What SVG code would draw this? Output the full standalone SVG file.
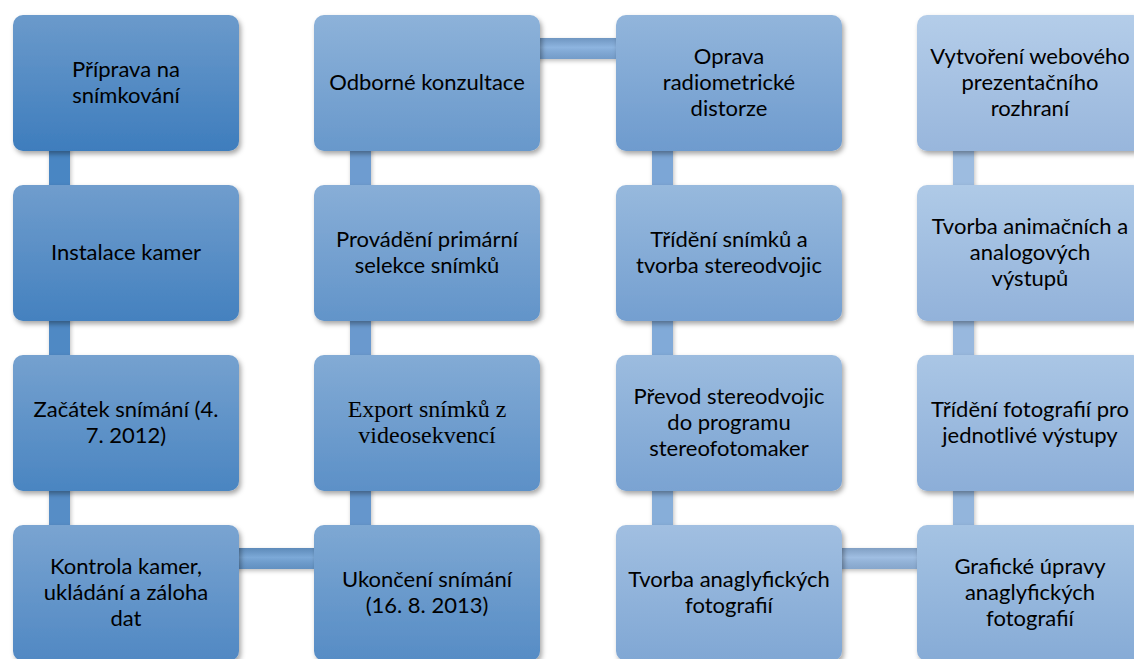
<svg xmlns="http://www.w3.org/2000/svg" width="1134" height="659" viewBox="0 0 1134 659">
<style>
  .box { filter: url(#sh); }
  .bar { filter: url(#sh2); }
  .t { font-family: "Lato", "Open Sans", "Liberation Sans", sans-serif; font-size: 22px; fill: #000; text-anchor: middle; }
  .s { font-family: "Liberation Serif", "Times New Roman", serif; font-size: 24px; fill: #000; text-anchor: middle; }
</style>
<defs>
  <filter id="sh" x="-10%" y="-10%" width="125%" height="130%">
    <feDropShadow dx="2" dy="3" stdDeviation="2.5" flood-color="#000" flood-opacity="0.35"/>
  </filter>
  <filter id="sh2" x="-20%" y="-20%" width="140%" height="160%">
    <feDropShadow dx="1" dy="2" stdDeviation="2" flood-color="#000" flood-opacity="0.25"/>
  </filter>
  <linearGradient id="g0" x1="0" y1="0" x2="0" y2="1"><stop offset="0" stop-color="#6b9acb"/><stop offset="1" stop-color="#3e7dbd"/></linearGradient>
  <linearGradient id="g1" x1="0" y1="0" x2="0" y2="1"><stop offset="0" stop-color="#709dcd"/><stop offset="1" stop-color="#4481bf"/></linearGradient>
  <linearGradient id="g2" x1="0" y1="0" x2="0" y2="1"><stop offset="0" stop-color="#75a1cf"/><stop offset="1" stop-color="#4a85c1"/></linearGradient>
  <linearGradient id="g3" x1="0" y1="0" x2="0" y2="1"><stop offset="0" stop-color="#7aa4d1"/><stop offset="1" stop-color="#5088c3"/></linearGradient>
  <linearGradient id="g4" x1="0" y1="0" x2="0" y2="1"><stop offset="0" stop-color="#7ea8d3"/><stop offset="1" stop-color="#568cc5"/></linearGradient>
  <linearGradient id="g5" x1="0" y1="0" x2="0" y2="1"><stop offset="0" stop-color="#83abd5"/><stop offset="1" stop-color="#5c90c7"/></linearGradient>
  <linearGradient id="g6" x1="0" y1="0" x2="0" y2="1"><stop offset="0" stop-color="#88aed7"/><stop offset="1" stop-color="#6294c9"/></linearGradient>
  <linearGradient id="g7" x1="0" y1="0" x2="0" y2="1"><stop offset="0" stop-color="#8db2d9"/><stop offset="1" stop-color="#6898cb"/></linearGradient>
  <linearGradient id="g8" x1="0" y1="0" x2="0" y2="1"><stop offset="0" stop-color="#92b5db"/><stop offset="1" stop-color="#6e9bce"/></linearGradient>
  <linearGradient id="g9" x1="0" y1="0" x2="0" y2="1"><stop offset="0" stop-color="#97b9dd"/><stop offset="1" stop-color="#749fd0"/></linearGradient>
  <linearGradient id="g10" x1="0" y1="0" x2="0" y2="1"><stop offset="0" stop-color="#9cbcdf"/><stop offset="1" stop-color="#7aa3d2"/></linearGradient>
  <linearGradient id="g11" x1="0" y1="0" x2="0" y2="1"><stop offset="0" stop-color="#a1bfe1"/><stop offset="1" stop-color="#80a7d4"/></linearGradient>
  <linearGradient id="g12" x1="0" y1="0" x2="0" y2="1"><stop offset="0" stop-color="#a5c3e3"/><stop offset="1" stop-color="#86abd6"/></linearGradient>
  <linearGradient id="g13" x1="0" y1="0" x2="0" y2="1"><stop offset="0" stop-color="#aac6e5"/><stop offset="1" stop-color="#8caed8"/></linearGradient>
  <linearGradient id="g14" x1="0" y1="0" x2="0" y2="1"><stop offset="0" stop-color="#afcae7"/><stop offset="1" stop-color="#92b2da"/></linearGradient>
  <linearGradient id="g15" x1="0" y1="0" x2="0" y2="1"><stop offset="0" stop-color="#b4cde9"/><stop offset="1" stop-color="#98b6dc"/></linearGradient>
  <linearGradient id="hb" x1="0" y1="0" x2="0" y2="1"><stop offset="0" stop-color="#000" stop-opacity="0.12"/><stop offset="0.45" stop-color="#fff" stop-opacity="0.12"/><stop offset="1" stop-color="#000" stop-opacity="0.08"/></linearGradient>
</defs>

<g id="connectors">
  <rect class="bar" x="49" y="146" width="21" height="44" fill="#4a86c3"/>
  <rect class="bar" x="49" y="316" width="21" height="44" fill="#5089c4"/>
  <rect class="bar" x="49" y="486" width="21" height="44" fill="#568dc6"/>
  <rect class="bar" x="233" y="548" width="87" height="21" fill="#6a9dd2"/>
  <rect x="233" y="548" width="87" height="21" fill="url(#hb)"/>
  <rect class="bar" x="350" y="486" width="21" height="44" fill="#6596cc"/>
  <rect class="bar" x="350" y="316" width="21" height="44" fill="#6a99ce"/>
  <rect class="bar" x="350" y="146" width="21" height="44" fill="#6e9cd0"/>
  <rect class="bar" x="535" y="38" width="87" height="21" fill="#7eaadb"/>
  <rect x="535" y="38" width="87" height="21" fill="url(#hb)"/>
  <rect class="bar" x="652" y="146" width="21" height="44" fill="#7ca6d6"/>
  <rect class="bar" x="652" y="316" width="21" height="44" fill="#81aad8"/>
  <rect class="bar" x="652" y="486" width="21" height="44" fill="#87aed9"/>
  <rect class="bar" x="836" y="548" width="87" height="21" fill="#92b5de"/>
  <rect x="836" y="548" width="87" height="21" fill="url(#hb)"/>
  <rect class="bar" x="953" y="486" width="21" height="44" fill="#93b5dc"/>
  <rect class="bar" x="953" y="316" width="21" height="44" fill="#98b8de"/>
  <rect class="bar" x="953" y="146" width="21" height="44" fill="#9dbce0"/>
</g>

<g id="n0"><rect class="box" x="13" y="15" width="226" height="136" rx="10" fill="url(#g0)"/>
  <text class="t" x="126" y="77">Příprava na</text><text class="t" x="126" y="103">snímkování</text></g>
<g id="n1"><rect class="box" x="13" y="185" width="226" height="136" rx="10" fill="url(#g1)"/>
  <text class="t" x="126" y="260">Instalace kamer</text></g>
<g id="n2"><rect class="box" x="13" y="355" width="226" height="136" rx="10" fill="url(#g2)"/>
  <text class="t" x="126" y="417">Začátek snímání (4.</text><text class="t" x="126" y="443">7. 2012)</text></g>
<g id="n3"><rect class="box" x="13" y="525" width="226" height="136" rx="10" fill="url(#g3)"/>
  <text class="t" x="126" y="574">Kontrola kamer,</text><text class="t" x="126" y="600">ukládání a záloha</text><text class="t" x="126" y="626">dat</text></g>

<g id="n4"><rect class="box" x="314" y="525" width="226" height="136" rx="10" fill="url(#g4)"/>
  <text class="t" x="427" y="587">Ukončení snímání</text><text class="t" x="427" y="613">(16. 8. 2013)</text></g>
<g id="n5"><rect class="box" x="314" y="355" width="226" height="136" rx="10" fill="url(#g5)"/>
  <text class="s" x="427" y="417">Export snímků z</text><text class="s" x="427" y="443">videosekvencí</text></g>
<g id="n6"><rect class="box" x="314" y="185" width="226" height="136" rx="10" fill="url(#g6)"/>
  <text class="t" x="427" y="247">Provádění primární</text><text class="t" x="427" y="273">selekce snímků</text></g>
<g id="n7"><rect class="box" x="314" y="15" width="226" height="136" rx="10" fill="url(#g7)"/>
  <text class="t" x="427" y="90">Odborné konzultace</text></g>

<g id="n8"><rect class="box" x="616" y="15" width="226" height="136" rx="10" fill="url(#g8)"/>
  <text class="t" x="729" y="64">Oprava</text><text class="t" x="729" y="90">radiometrické</text><text class="t" x="729" y="116">distorze</text></g>
<g id="n9"><rect class="box" x="616" y="185" width="226" height="136" rx="10" fill="url(#g9)"/>
  <text class="t" x="729" y="247">Třídění snímků a</text><text class="t" x="729" y="273">tvorba stereodvojic</text></g>
<g id="n10"><rect class="box" x="616" y="355" width="226" height="136" rx="10" fill="url(#g10)"/>
  <text class="t" x="729" y="404">Převod stereodvojic</text><text class="t" x="729" y="430">do programu</text><text class="t" x="729" y="456">stereofotomaker</text></g>
<g id="n11"><rect class="box" x="616" y="525" width="226" height="136" rx="10" fill="url(#g11)"/>
  <text class="t" x="729" y="587">Tvorba anaglyfických</text><text class="t" x="729" y="613">fotografií</text></g>

<g id="n12"><rect class="box" x="917" y="525" width="226" height="136" rx="10" fill="url(#g12)"/>
  <text class="t" x="1030" y="574">Grafické úpravy</text><text class="t" x="1030" y="600">anaglyfických</text><text class="t" x="1030" y="626">fotografií</text></g>
<g id="n13"><rect class="box" x="917" y="355" width="226" height="136" rx="10" fill="url(#g13)"/>
  <text class="t" x="1030" y="417">Třídění fotografií pro</text><text class="t" x="1030" y="443">jednotlivé výstupy</text></g>
<g id="n14"><rect class="box" x="917" y="185" width="226" height="136" rx="10" fill="url(#g14)"/>
  <text class="t" x="1030" y="234">Tvorba animačních a</text><text class="t" x="1030" y="260">analogových</text><text class="t" x="1030" y="286">výstupů</text></g>
<g id="n15"><rect class="box" x="917" y="15" width="226" height="136" rx="10" fill="url(#g15)"/>
  <text class="t" x="1030" y="64">Vytvoření webového</text><text class="t" x="1030" y="90">prezentačního</text><text class="t" x="1030" y="116">rozhraní</text></g>
</svg>
